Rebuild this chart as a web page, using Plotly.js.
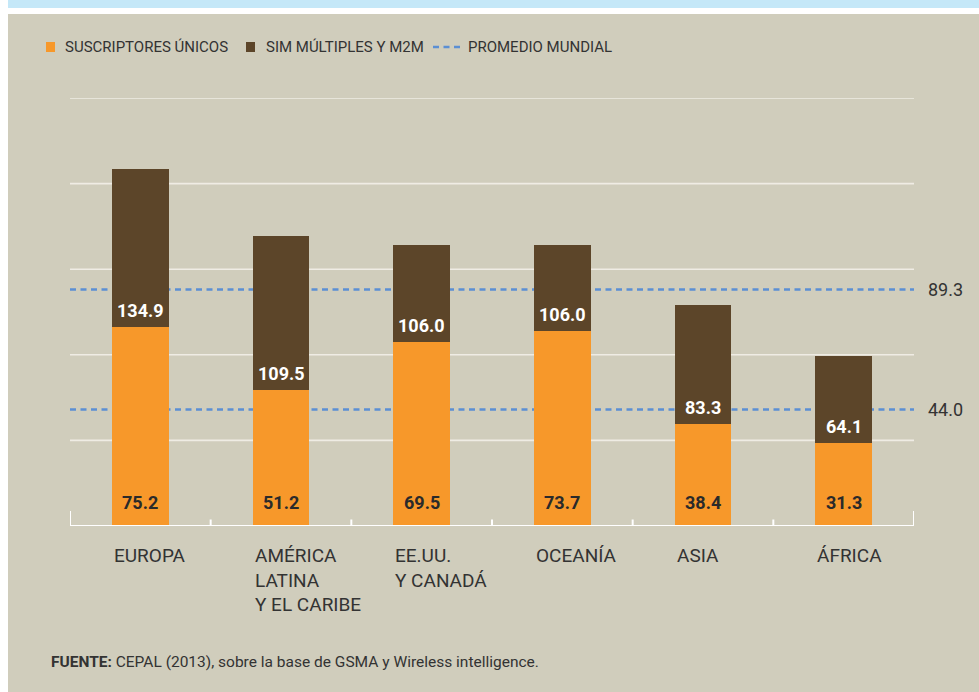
<!DOCTYPE html>
<html>
<head>
<meta charset="utf-8">
<script src="https://cdn.plot.ly/plotly-3.0.1.min.js"></script>
<style>html,body{margin:0;padding:0;background:#fff;}#chart{width:979px;height:692px;}</style>
</head>
<body>
<div id="chart"></div>
<script>
// ---- data ----
const regionIds = ['EUROPA', 'AMÉRICA LATINA Y EL CARIBE', 'EE.UU. Y CANADÁ', 'OCEANÍA', 'ASIA', 'ÁFRICA'];
const regionLabels = ['EUROPA', 'AMÉRICA<br>LATINA<br>Y EL CARIBE', 'EE.UU.<br>Y CANADÁ', 'OCEANÍA', 'ASIA', 'ÁFRICA'];
const uniqueSubs = [75.2, 51.2, 69.5, 73.7, 38.4, 31.3];
const totalSubs = [134.9, 109.5, 106.0, 106.0, 83.3, 64.1];
const worldAverages = [89.3, 44.0];
const seriesNames = ['SUSCRIPTORES ÚNICOS', 'SIM MÚLTIPLES Y M2M', 'PROMEDIO MUNDIAL'];
const gridVals = [32.32, 64.64, 96.96, 129.28, 161.6];
const sourceText = '<b>FUENTE:</b> CEPAL (2013), sobre la base de GSMA y Wireless intelligence.';

const multiSim = totalSubs.map((t, i) => +(t - uniqueSubs[i]).toFixed(1));

// ---- style ----
const ORANGE = '#f7982a', BROWN = '#5c4529', BEIGE = '#d0cdbc', BLUE = '#5b8fd3', TXT = '#333333', GRID = '#efece4';
const FONT = 'Roboto, "Open Sans", sans-serif';
const W = 979, H = 692, ML = 70, MR = 65, MT = 98, MB = 166;
const PW = W - ML - MR, PH = H - MT - MB;
const px = x => (x - ML) / PW;
const py = y => (H - MB - y) / PH;
const BARW = 0.405;

const traces = [
  { type: 'bar', name: seriesNames[0], x: regionIds, y: uniqueSubs, marker: { color: ORANGE }, width: BARW, hoverinfo: 'y' },
  { type: 'bar', name: seriesNames[1], x: regionIds, y: multiSim, marker: { color: BROWN }, width: BARW, hoverinfo: 'y' }
];

const shapes = [
  // background panels
  { type: 'rect', xref: 'paper', yref: 'paper', x0: px(8), x1: px(W), y0: py(0), y1: py(8), fillcolor: '#c5e8f8', line: { width: 0 }, layer: 'below' },
  { type: 'rect', xref: 'paper', yref: 'paper', x0: px(8), x1: px(W), y0: py(14), y1: py(H), fillcolor: BEIGE, line: { width: 0 }, layer: 'below' },
  // baseline
  { type: 'line', xref: 'paper', yref: 'y', x0: 0, x1: 1, y0: 0, y1: 0, line: { color: '#ffffff', width: 2 }, layer: 'above' },
  // legend symbols
  { type: 'rect', xref: 'paper', yref: 'paper', x0: px(46), x1: px(55), y0: py(52), y1: py(42), fillcolor: ORANGE, line: { width: 0 } },
  { type: 'rect', xref: 'paper', yref: 'paper', x0: px(246), x1: px(255), y0: py(52), y1: py(42), fillcolor: BROWN, line: { width: 0 } },
  { type: 'line', xref: 'paper', yref: 'paper', x0: px(433), x1: px(460), y0: py(47), y1: py(47), line: { color: BLUE, width: 2.5, dash: '6px,4.5px' } }
];

// horizontal gridlines
gridVals.forEach(v => {
  shapes.push({ type: 'line', xref: 'paper', yref: 'y', x0: 0, x1: 1, y0: v, y1: v, line: { color: GRID, width: 1.6 }, layer: 'below' });
});

// world average dashed lines
worldAverages.forEach(v => {
  shapes.push({ type: 'line', xref: 'paper', yref: 'y', x0: 0, x1: 1, y0: v, y1: v, line: { color: BLUE, width: 2.5, dash: '6px,4.5px' }, layer: 'below' });
});

// axis ticks
for (let k = 0; k <= regionIds.length; k++) {
  const xv = k - 0.5;
  const isEnd = (k === 0 || k === regionIds.length);
  shapes.push({ type: 'line', xref: 'x', yref: 'y', ysizemode: 'pixel', yanchor: 0,
    x0: xv, x1: xv, y0: isEnd ? 0 : -6.5, y1: isEnd ? 15 : 6.5,
    line: { color: '#ffffff', width: 2 }, layer: 'above' });
}

const annotations = [];
// legend texts
annotations.push({ xref: 'paper', yref: 'paper', x: px(63), y: py(47), xanchor: 'left', yanchor: 'middle', text: seriesNames[0], showarrow: false, font: { family: FONT, size: 15, color: TXT } });
annotations.push({ xref: 'paper', yref: 'paper', x: px(264), y: py(47), xanchor: 'left', yanchor: 'middle', text: seriesNames[1], showarrow: false, font: { family: FONT, size: 15, color: TXT } });
annotations.push({ xref: 'paper', yref: 'paper', x: px(466), y: py(47), xanchor: 'left', yanchor: 'middle', text: seriesNames[2], showarrow: false, font: { family: FONT, size: 15, color: TXT } });

regionIds.forEach((id, i) => {
  // unique subscribers value near bottom
  annotations.push({ xref: 'x', yref: 'y', x: id, y: 0, yanchor: 'middle', yshift: 23.5, text: '<b>' + uniqueSubs[i].toFixed(1) + '</b>', showarrow: false, font: { family: FONT, size: 18, color: '#2a2a2a' } });
  // total value just above orange segment
  annotations.push({ xref: 'x', yref: 'y', x: id, y: uniqueSubs[i], yanchor: 'middle', yshift: 16.5, text: '<b>' + totalSubs[i].toFixed(1) + '</b>', showarrow: false, font: { family: FONT, size: 18, color: '#ffffff' } });
  // category label, left aligned at bar edge
  annotations.push({ xref: 'x', yref: 'y', x: i - BARW / 2, y: 0, xanchor: 'left', yanchor: 'top', yshift: -16, align: 'left', text: regionLabels[i], showarrow: false, font: { family: FONT, size: 19, color: TXT } });
});

worldAverages.forEach(v => {
  annotations.push({ xref: 'paper', yref: 'y', x: px(926), y: v, xanchor: 'left', yanchor: 'middle', text: v.toFixed(1), showarrow: false, font: { family: FONT, size: 18, color: TXT } });
});

annotations.push({ xref: 'paper', yref: 'paper', x: px(49), y: py(662), xanchor: 'left', yanchor: 'middle', text: sourceText, showarrow: false, font: { family: FONT, size: 15.5, color: TXT } });

const layout = {
  width: W, height: H,
  margin: { l: ML, r: MR, t: MT, b: MB, pad: 0 },
  paper_bgcolor: '#ffffff',
  plot_bgcolor: 'rgba(0,0,0,0)',
  barmode: 'stack',
  showlegend: false,
  font: { family: FONT, color: TXT },
  xaxis: { type: 'category', categoryarray: regionIds, showticklabels: false, showgrid: false, zeroline: false, showline: false, ticks: '', fixedrange: true, range: [-0.5, regionIds.length - 0.5] },
  yaxis: { range: [0, 161.6], showticklabels: false, showgrid: false, zeroline: false, showline: false, ticks: '', fixedrange: true },
  shapes: shapes,
  annotations: annotations
};

Plotly.newPlot('chart', traces, layout, { displayModeBar: false, staticPlot: true });
</script>
</body>
</html>
